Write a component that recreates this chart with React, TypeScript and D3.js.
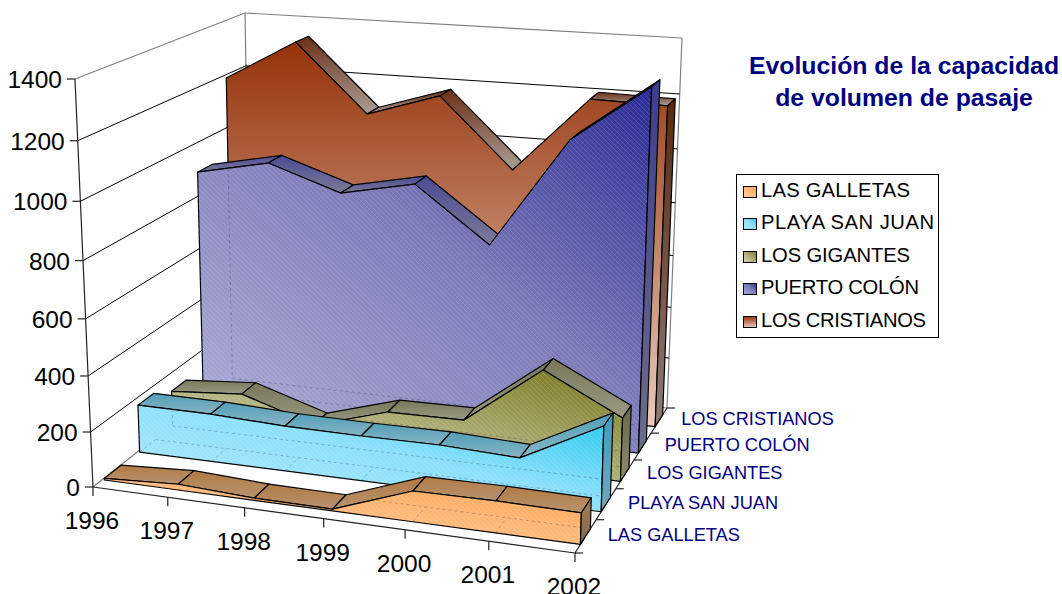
import React from 'react';
import * as d3 from 'd3';

const years = ['1996', '1997', '1998', '1999', '2000', '2001', '2002'];
const seriesNames = ['LAS GALLETAS', 'PLAYA SAN JUAN', 'LOS GIGANTES', 'PUERTO COLÓN', 'LOS CRISTIANOS'];
const galletas = [6, 21, 8, 6, 108, 111, 108];
const playaSanJuan = [178, 177, 166, 164, 166, 155, 302];
const gigantes = [136, 157, 71, 154, 157, 373, 232];
const puertoColon = [895, 950, 861, 916, 718, 1114, 1315];
const cristianos = [1191, 1341, 1093, 1178, 926, 1203, 1197];
const allValues = [galletas, playaSanJuan, gigantes, puertoColon, cristianos];
const valueTicks = [0, 200, 400, 600, 800, 1000, 1200, 1400];

type P = [number, number];

// Maps the unit square onto a projected quadrilateral.
function homography(q: P[]) {
  const [a, b, c, d] = q;
  const dx1 = b[0] - c[0], dx2 = d[0] - c[0], sx = a[0] - b[0] + c[0] - d[0];
  const dy1 = b[1] - c[1], dy2 = d[1] - c[1], sy = a[1] - b[1] + c[1] - d[1];
  const det = dx1 * dy2 - dx2 * dy1;
  const g = (sx * dy2 - dx2 * sy) / det, h = (dx1 * sy - sx * dy1) / det;
  const A = b[0] - a[0] + g * b[0], B = d[0] - a[0] + h * d[0];
  const D = b[1] - a[1] + g * b[1], E = d[1] - a[1] + h * d[1];
  return (x: number, y: number): P => {
    const k = g * x + h * y + 1;
    return [(A * x + B * y + a[0]) / k, (D * x + E * y + a[1]) / k];
  };
}
const floor = homography([[93, 487], [575, 553], [667, 408], [251, 362]]);
const ceil = homography([[75, 79], [587, 114], [682, 38], [245, 13]]);
const uScale = d3.scaleLinear().domain([0, years.length - 1]).range([0, 1]);
const wScale = d3.scaleLinear().domain([0, seriesNames.length]).range([0, 1]);
const vScale = d3.scaleLinear().domain([0, 1400]).range([0, 1]);
const R = 1.07; // vertical foreshortening of the box

function project(u: number, w: number, v: number): P {
  const t = vScale(v);
  const s = t / (t + (1 - t) * R);
  const a = floor(uScale(u), wScale(w));
  const b = ceil(uScale(u), wScale(w));
  return [a[0] + (b[0] - a[0]) * s, a[1] + (b[1] - a[1]) * s];
}
// The extruded areas sit slightly inside the left wall.
const insetU = d3.scaleLinear().domain([0, years.length - 1]).range([0.03, years.length - 1]);

const path = (pts: P[]) => (d3.line()(pts) as string) + 'Z';
const seg = (a: P, b: P) => d3.line()([a, b]) as string;

const FRONT = 0.25, BACK = 0.72;
const fronts = ['url(#fGal)', 'url(#fPla)', 'url(#fGig)', 'url(#fPue)', 'url(#fCri)'];
const tops = ['url(#tGal)', 'url(#tPla)', 'url(#tGig)', 'url(#tPue)', 'url(#tCri)'];
const caps = ['url(#cGal)', 'url(#cPla)', 'url(#cGig)', 'url(#cPue)', 'url(#cCri)'];
const hatched = [true, true, true, true, false];

function area(q: P[]) {
  let s = 0;
  q.forEach((p, i) => { const n = q[(i + 1) % q.length]; s += p[0] * n[1] - n[0] * p[1]; });
  return s / 2;
}
const mark = (u: number, w: number, v: number) => project(insetU(u), w, v);
const frontPoly = (k: number) => {
  const vals = allValues[k];
  const f = k + FRONT;
  return [...vals.map((v, u) => mark(u, f, v)), ...vals.map((_, u) => mark(u, f, 0)).reverse()];
};

const Grad = ({ id, a, m, b, diag }: { id: string; a: string; m?: string; b: string; diag?: boolean }) => (
  <linearGradient id={id} x1={0} y1={diag ? 1 : 0} x2={diag ? 1 : 0} y2={diag ? 0 : 1}>
    <stop offset="0" stopColor={a} />
    {m && <stop offset="0.55" stopColor={m} />}
    <stop offset="1" stopColor={b} />
  </linearGradient>
);

// One extruded area: visible top facets, translucent front face, right end cap.
function Ribbon({ k }: { k: number }) {
  const vals = allValues[k];
  const f = k + FRONT, b = k + BACK;
  const last = vals.length - 1;
  const poly = frontPoly(k);
  const quads = d3.pairs(vals.map((v, u) => ({ v, u }))).map(([p, q]) => [
    mark(p.u, f, p.v), mark(q.u, f, q.v), mark(q.u, b, q.v), mark(p.u, b, p.v),
  ] as P[]);
  const hidden: string[] = [];
  hidden.push(seg(mark(0, b, 0), mark(last, b, 0)));
  vals.forEach((_, u) => hidden.push(seg(mark(u, f, 0), mark(u, b, 0))));
  if (k < allValues.length - 1) {
    const nf = k + 1 + FRONT;
    hidden.push(seg(mark(0, nf, allValues[k + 1][0]), mark(0, nf, 0)));
    hidden.push(seg(mark(0, nf, 0), mark(last, nf, 0)));
  }
  return (
    <g stroke="#000" strokeWidth={1.2} strokeLinejoin="round">
      {quads.map((q, i) => (area(q) < 0 ? <path key={i} d={path(q)} fill={tops[k]} /> : null))}
      <path d={path(poly)} fill={fronts[k]} />
      {hatched[k] && <path d={path(poly)} fill="url(#hatch)" stroke="none" />}
      {hatched[k] && (
        <g clipPath={`url(#clip${k})`} stroke="#334" strokeOpacity={0.3} strokeWidth={1} strokeDasharray="3 3" fill="none">
          {hidden.map((d, i) => <path key={i} d={d} />)}
        </g>
      )}
      <path
        d={path([mark(last, f, vals[last]), mark(last, b, vals[last]), mark(last, b, 0), mark(last, f, 0)])}
        fill={caps[k]}
      />
    </g>
  );
}

const legendY = [190, 222, 255, 287, 320];
const legendWidths = [149, 173, 149, 158, 165];
const font = '"Liberation Sans", Arial, sans-serif';

export default function App() {
  const last = years.length - 1;
  return (
    <svg width={1062} height={594} style={{ position: 'absolute', left: 0, top: 0, background: '#fff' }} fontFamily={font}>
      <defs>
        <Grad id="fCri" a="#953208" b="#e8cbbd" />
        <Grad id="tCri" a="#6d2f17" b="#aa9e96" />
        <Grad id="cCri" a="#5a2810" b="#8c7c76" />
        <Grad id="fPue" a="#b2b0d8" m="#7d7bb8" b="#2a2a94" diag />
        <Grad id="tPue" a="#4b4b96" b="#7a7a96" />
        <Grad id="cPue" a="#3d3d90" b="#6e6e88" />
        <Grad id="fGig" a="#dedec2" m="#aaaa72" b="#76761a" diag />
        <Grad id="tGig" a="#77775a" b="#9a9a84" />
        <Grad id="cGig" a="#6a6a48" b="#8a8a72" />
        <Grad id="fPla" a="#b4eaff" m="#8ce0fa" b="#1cc4ee" diag />
        <Grad id="tPla" a="#519fb8" b="#88b4c4" />
        <Grad id="cPla" a="#3f9cbc" b="#6fa9bd" />
        <Grad id="fGal" a="#ffd2a6" m="#ffb878" b="#ffa352" diag />
        <Grad id="tGal" a="#b07a45" b="#b8946f" />
        <Grad id="cGal" a="#a57a4e" b="#7d6a55" />
        <pattern id="hatch" width={5} height={5} patternUnits="userSpaceOnUse">
          <path d="M-1,-1L6,6M-1,4L1,6M4,-1L6,1" stroke="#fff" strokeOpacity={0.13} strokeWidth={1} />
        </pattern>
        {allValues.map((_, k) => (
          <clipPath id={`clip${k}`} key={k}><path d={path(frontPoly(k))} /></clipPath>
        ))}
      </defs>

      {/* walls */}
      <g fill="none" stroke="#808080" strokeWidth={1.2}>
        <path d={seg(project(0, 0, 1400), project(0, 5, 1400))} />
        <path d={seg(project(0, 5, 1400), project(last, 5, 1400))} />
        <path d={seg(project(0, 5, 1400), project(0, 5, 0))} />
        <path d={seg(project(last, 5, 1400), project(last, 5, 0))} />
        <path d={seg(project(0, 0, 0), project(0, 5, 0))} />
        <path d={seg(project(0, 5, 0), project(last, 5, 0))} />
      </g>
      <g fill="none" stroke="#000" strokeWidth={1}>
        {valueTicks.slice(1, -1).map((v) => (
          <path key={v} d={d3.line()([project(0, 0, v), project(0, 5, v), project(last, 5, v)]) as string} />
        ))}
      </g>
      <g fill="none" stroke="#222" strokeWidth={1.2}>
        <path d={seg(project(0, 0, 0), project(0, 0, 1400))} />
        <path d={seg(project(0, 0, 0), project(last, 0, 0))} />
        <path d={seg(project(last, 0, 0), project(last, 5, 0))} />
        {valueTicks.map((v) => {
          const p = project(0, 0, v);
          return <path key={v} d={seg(p, [p[0] - 8, p[1]])} />;
        })}
        {years.map((y, u) => {
          const p = project(u, 0, 0);
          return <path key={y} d={seg(p, [p[0], p[1] + 9])} />;
        })}
        {d3.range(0, 6).map((w) => {
          const p = project(last, w, 0);
          return <path key={w} d={seg(p, [p[0] + 8, p[1]])} />;
        })}
      </g>

      {d3.range(4, -1, -1).map((k) => <Ribbon key={k} k={k} />)}

      {/* value axis labels */}
      <g fontSize={24.5} fill="#000" textAnchor="end">
        {valueTicks.map((v) => {
          const p = project(0, 0, v);
          return <text key={v} x={p[0] - 13} y={p[1] + 9}>{v}</text>;
        })}
      </g>
      {/* year labels */}
      <g fontSize={24.5} fill="#000" textAnchor="middle">
        {years.map((y, u) => {
          const p = project(u, 0, 0);
          return <text key={y} x={p[0] - 1} y={p[1] + 42}>{y}</text>;
        })}
      </g>
      {/* depth axis labels */}
      <g fontSize={18.2} fill="#000080">
        {seriesNames.map((n, k) => {
          const p = project(last, k + 0.5, 0);
          return <text key={n} x={p[0] + 22} y={p[1] + 5}>{n}</text>;
        })}
      </g>

      {/* title */}
      <g fontSize={24.8} fontWeight="bold" fill="#000080" textAnchor="middle">
        <text x={904} y={74}>Evolución de la capacidad</text>
        <text x={904} y={106}>de volumen de pasaje</text>
      </g>

      {/* legend */}
      <rect x={736.5} y={174.5} width={202} height={163} fill="#fff" stroke="#000" strokeWidth={1} />
      {seriesNames.map((n, k) => (
        <g key={n}>
          <rect x={743.5} y={legendY[k] - 3.5} width={13} height={11} fill={fronts[k]} stroke="#000" strokeWidth={1} />
          <text x={761} y={legendY[k] + 7} fontSize={20.2} fill="#000" textLength={legendWidths[k]} lengthAdjust="spacing">{n}</text>
        </g>
      ))}
    </svg>
  );
}
